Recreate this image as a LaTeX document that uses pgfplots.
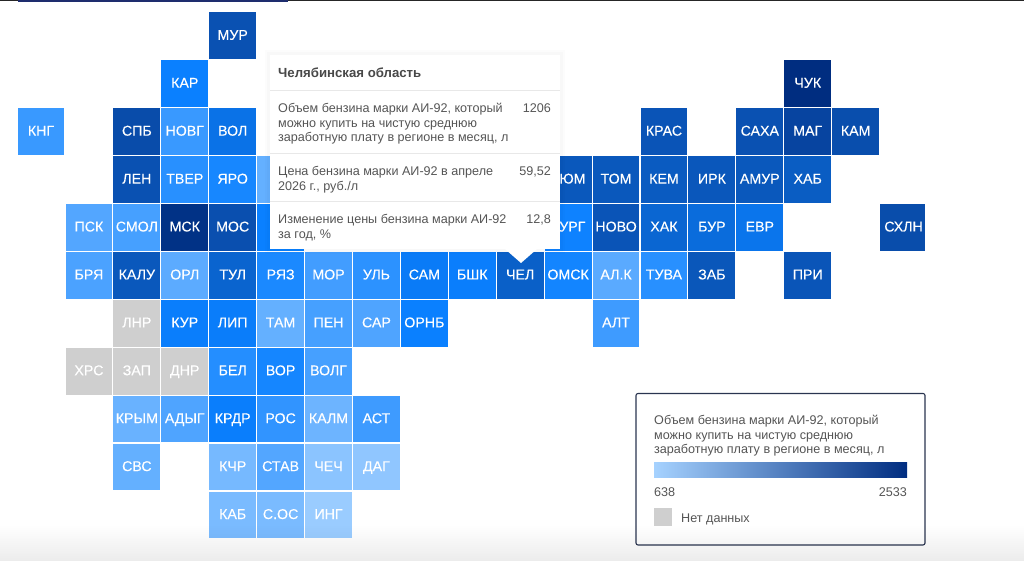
\documentclass[border=0pt]{standalone}
\usepackage{fontspec}
\setmainfont{Liberation Sans}
\newfontfamily\tilefont[FakeBold=0.25]{Liberation Sans}
\usepackage{pgfplots}
\usepackage{pgfplotstable}
\pgfplotsset{compat=1.18}
\definecolor{txt}{HTML}{555555}
\definecolor{nodata}{HTML}{CFCFCF}
\definecolor{lgA}{HTML}{A6D2FF}
\definecolor{lgB}{HTML}{002D80}
\definecolor{frame}{HTML}{2A3550}
\pgfplotstableread{
col row v label
4 0 1480 МУР
3 1 1000 КАР
16 1 2533 ЧУК
0 2 890 КНГ
2 2 1620 СПБ
3 2 890 НОВГ
4 2 1090 ВОЛ
13 2 1420 КРАС
15 2 1480 САХА
16 2 1850 МАГ
17 2 1560 КАМ
2 3 1480 ЛЕН
3 3 930 ТВЕР
4 3 970 ЯРО
5 3 790 {}
11 3 1350 ТЮМ
12 3 1350 ТОМ
13 3 1290 КЕМ
14 3 1370 ИРК
15 3 1350 АМУР
16 3 1270 ХАБ
1 4 830 ПСК
2 4 860 СМОЛ
3 4 2400 МСК
4 4 1520 МОС
5 4 1000 {}
11 4 990 КУРГ
12 4 1420 НОВО
13 4 1170 ХАК
14 4 1130 БУР
15 4 1070 ЕВР
18 4 1600 СХЛН
1 5 850 БРЯ
2 5 1350 КАЛУ
3 5 810 ОРЛ
4 5 1180 ТУЛ
5 5 960 РЯЗ
6 5 870 МОР
7 5 920 УЛЬ
8 5 1030 САМ
9 5 1010 БШК
10 5 1206 ЧЕЛ
11 5 980 ОМСК
12 5 815 АЛ.К
13 5 930 ТУВА
14 5 1380 ЗАБ
16 5 1400 ПРИ
3 6 1010 КУР
4 6 1020 ЛИП
5 6 790 ТАМ
6 6 860 ПЕН
7 6 840 САР
8 6 1000 ОРНБ
12 6 880 АЛТ
4 7 940 БЕЛ
5 7 975 ВОР
6 7 860 ВОЛГ
2 8 780 КРЫМ
3 8 840 АДЫГ
4 8 1010 КРДР
5 8 910 РОС
6 8 770 КАЛМ
7 8 880 АСТ
2 9 790 СВС
4 9 750 КЧР
5 9 830 СТАВ
6 9 700 ЧЕЧ
7 9 690 ДАГ
4 10 740 КАБ
5 10 740 С.ОС
6 10 665 ИНГ
}\tiles
\pgfplotstableread{
col row label
2 6 ЛНР
1 7 ХРС
2 7 ЗАП
3 7 ДНР
}\nodatatiles
\begin{document}
\begin{tikzpicture}
\begin{axis}[
  at={(0,0)}, anchor=south west,
  scale only axis, width=1024pt, height=561pt,
  xmin=-0.8556, xmax=20.5133,
  ymin=-0.745, ymax=10.962,
  y dir=reverse,
  hide axis,
  clip=false,
  colormap={tiles}{
    rgb255(0cm)=(166,210,255)
    rgb255(3.62cm)=(10,128,255)
    rgb255(5.68cm)=(10,96,200)
    rgb255(8.62cm)=(10,80,176)
    rgb255(18.95cm)=(0,45,128)
  },
  point meta min=638, point meta max=2533,
]
\addplot[scatter, only marks, mark=square*, mark size=22.9pt,
  scatter/use mapped color={draw=mapped color, fill=mapped color},
  mark options={line width=0pt}, point meta=explicit]
  table[x=col, y=row, meta=v] {\tiles};
\addplot[only marks, mark=square*, mark size=22.9pt,
  mark options={line width=0pt, draw=nodata, fill=nodata}]
  table[x=col, y=row] {\nodatatiles};
\addplot[only marks, mark=none, point meta=explicit symbolic,
  nodes near coords={\pgfplotspointmeta},
  nodes near coords style={anchor=base, text=white, inner sep=0pt,
    font=\tilefont\fontsize{14.2}{16}\selectfont, yshift=-4.1pt}]
  table[x=col, y=row, meta=label] {\tiles};
\addplot[only marks, mark=none, point meta=explicit symbolic,
  nodes near coords={\pgfplotspointmeta},
  nodes near coords style={anchor=base, text=white, inner sep=0pt,
    font=\tilefont\fontsize{14.2}{16}\selectfont, yshift=-4.1pt}]
  table[x=col, y=row, meta=label] {\nodatatiles};
\end{axis}
\begin{scope}[x=1pt, y=-1pt, shift={(0pt,561pt)}]
  % top rule and clipped edge of the last column
  \fill[white] (925.2,200) rectangle (930,252);
  \fill[black!85] (0,0) rectangle (1024,1.2);
  \fill[color={rgb,255:red,30;green,45;blue,110}] (18,0) rectangle (288,2);
  % tooltip
  \fill[black, opacity=0.012] (265,50) rectangle (565,254);
  \fill[black, opacity=0.015] (267,52) rectangle (563,252);
  \fill[white] (270,55) rectangle (560,249);
  \fill[white] (505,249) -- (521,263) -- (537,249) -- cycle;
  \draw[black!9, line width=0.8pt] (270,90) -- (560,90);
  \draw[black!9, line width=0.8pt] (270,153.5) -- (560,153.5);
  \draw[black!9, line width=0.8pt] (270,201.5) -- (560,201.5);
  \node[anchor=base west, inner sep=0pt, text=txt!85!black, font=\bfseries\fontsize{13.2}{15}\selectfont] at (278,77.8) {Челябинская область};
  \begin{scope}[every node/.style={anchor=base west, inner sep=0pt, text=txt, font=\fontsize{12.6}{14}\selectfont}]
    \node at (278,112.6) {Объем бензина марки АИ-92, который};
    \node at (278,127.3) {можно купить на чистую среднюю};
    \node at (278,141.8) {заработную плату в регионе в месяц, л};
    \node at (278,175.6) {Цена бензина марки АИ-92 в апреле};
    \node at (278,190.3) {2026 г., руб./л};
    \node at (278,223.6) {Изменение цены бензина марки АИ-92};
    \node at (278,238.1) {за год, \%};
    \node[anchor=base east] at (551,112.6) {1206};
    \node[anchor=base east] at (551,175.6) {59,52};
    \node[anchor=base east] at (551,223.6) {12,8};
  \end{scope}
  % legend
  \draw[frame, fill=white, line width=1.1pt, rounded corners=2pt] (636,393.5) rectangle (925,545);
  \begin{scope}[every node/.style={inner sep=0pt, text=txt, font=\fontsize{12.6}{14}\selectfont}]
    \node[anchor=base west] at (654,424.8) {Объем бензина марки АИ-92, который};
    \node[anchor=base west] at (654,439.3) {можно купить на чистую среднюю};
    \node[anchor=base west] at (654,453.8) {заработную плату в регионе в месяц, л};
    \node[anchor=base west] at (654,497) {638};
    \node[anchor=base east] at (907,497) {2533};
    \node[anchor=base west] at (681,522.3) {Нет данных};
  \end{scope}
  \shade[left color=lgA, right color=lgB] (654,462.5) rectangle (907,477.5);
  \fill[nodata] (654,508) rectangle (672,526);
  % soft band along the bottom
  \foreach \i in {0,...,35} {
    \fill[black, opacity=\i*0.0021] (0,525+\i) rectangle (1024,526.2+\i);
  }
\end{scope}
\end{tikzpicture}
\end{document}
